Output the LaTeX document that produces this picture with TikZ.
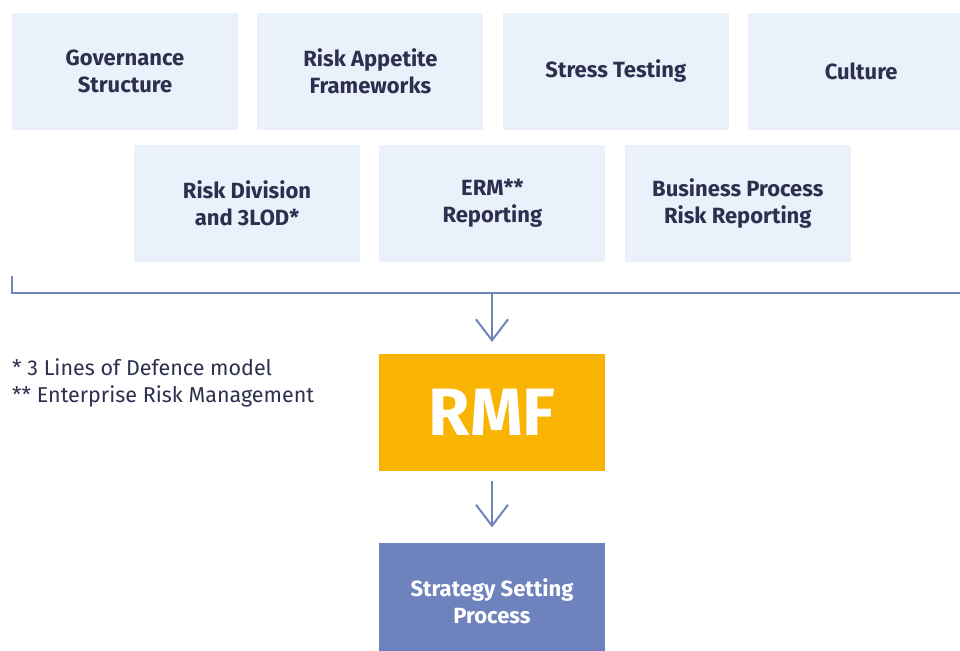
\documentclass[tikz,border=0pt]{standalone}
\usepackage{fontspec}
\setmainfont{Fira Sans}
\usepackage{tikz}
\usetikzlibrary{positioning,arrows.meta}
\definecolor{boxblue}{HTML}{EAF1FB}
\definecolor{inkblue}{HTML}{2D2F4E}
\definecolor{lineblue}{HTML}{7083BA}
\definecolor{rmfyellow}{HTML}{F8B400}
\definecolor{stratblue}{HTML}{6E82BE}
\tikzstyle{arrow} = [lineblue, line width=2pt, -{Straight Barb[length=21pt,width=32pt,line width=2pt]}]
\tikzstyle{bus} = [lineblue, line width=2pt]
\tikzstyle{tBox} = [rectangle, fill=boxblue, text=inkblue, align=center, minimum width=226pt, minimum height=117pt, text centered, font=\fontsize{22}{27}\selectfont\bfseries]
\tikzstyle{tRMF} = [rectangle, fill=rmfyellow, text=white, align=center, minimum width=226pt, minimum height=117pt, text centered, font=\fontsize{67}{70}\selectfont\bfseries]
\tikzstyle{tStrat} = [rectangle, fill=stratblue, text=white, align=center, minimum width=226pt, minimum height=117pt, text centered, font=\fontsize{22}{27}\selectfont\bfseries]
\begin{document}
\begin{tikzpicture}[x=1pt,y=-1pt]
        \useasboundingbox (0,0) rectangle (960,650);
        % first row
        \node[tBox] (Gov) at (125,71.5) {Governance\\Structure};
        \node[tBox] (RAF) [right =19pt of Gov] {Risk Appetite\\Frameworks};
        \node[tBox] (Stress) [right =19pt of RAF] {Stress Testing};
        \node[tBox] (Culture) [right =19pt of Stress] {Culture};
        % second row
        \node[tBox] (RiskDiv) at (247,203.5) {Risk Division\\and 3LOD*};
        \node[tBox] (ERM) [right =19pt of RiskDiv] {ERM**\\Reporting};
        \node[tBox] (BPRisk) [right =19pt of ERM] {Business Process\\Risk Reporting};
        % collecting line
        \coordinate (busL) at (12,276);
        \coordinate (busR) at (960,293);
        \coordinate (busM) at (492,293);
        \draw[bus] (busL) |- (busR);
        \node[tRMF] (RMF) [below =61pt of busM] {RMF};
        \node[tStrat] (Strategy) [below =71pt of RMF] {Strategy Setting\\Process};
        \draw[arrow, shorten >=12pt] (busM) -- (RMF);
        \draw[arrow, shorten <=10pt, shorten >=15pt] (RMF) -- (Strategy);
        % notes
        \node[anchor=north west, align=left, text=inkblue, inner sep=0pt, font=\fontsize{21.5}{27}\selectfont] (Notes) at (12,359) {* 3 Lines of Defence model\\** Enterprise Risk Management};
    \end{tikzpicture}
\end{document}
